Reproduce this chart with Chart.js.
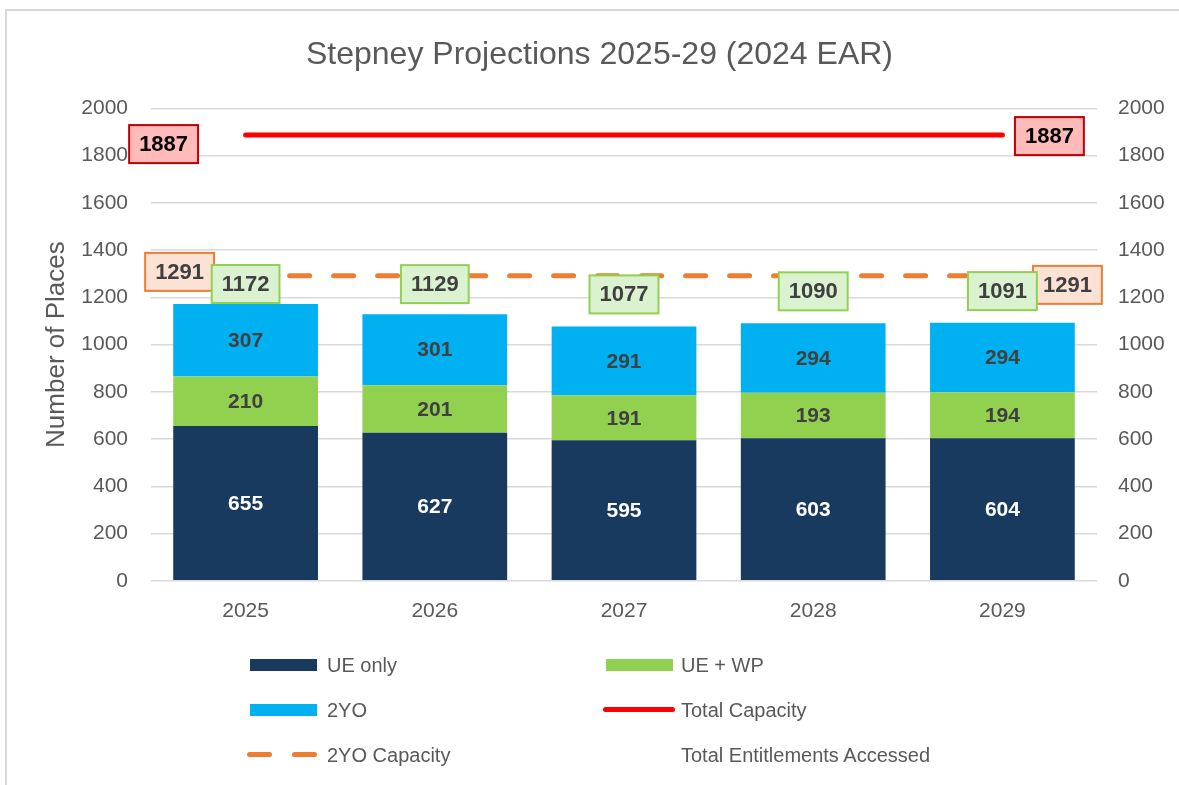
<!DOCTYPE html>
<html>
<head>
<meta charset="utf-8">
<title>Stepney Projections 2025-29</title>
<script src="https://cdn.jsdelivr.net/npm/chart.js@4.4.1/dist/chart.umd.min.js"></script>
<style>
  html, body { margin: 0; padding: 0; background: #ffffff; }
  #wrap { position: relative; width: 1179px; height: 785px; overflow: hidden; background: #ffffff; }
  #frame { position: absolute; left: 5px; top: 9px; width: 1200px; height: 800px; border-left: 2px solid #d9d9d9; border-top: 2px solid #d9d9d9; }
  #chart { position: absolute; left: 0; top: 0; }
  #legend { position: absolute; left: 0; top: 0; width: 100%; height: 100%; pointer-events: none;
            font-family: "Liberation Sans", Arial, sans-serif; font-size: 20px; color: #595959; }
  .lg-text { position: absolute; line-height: 24px; white-space: nowrap; }
  .lg-mark { position: absolute; }
</style>
</head>
<body>
<div id="wrap">
  <div id="frame"></div>
  <canvas id="chart" width="1179" height="785"></canvas>
  <div id="legend"></div>
</div>
<script>
  const years = ['2025', '2026', '2027', '2028', '2029'];
  const ueOnly = [655, 627, 595, 603, 604];
  const ueWp = [210, 201, 191, 193, 194];
  const twoYo = [307, 301, 291, 294, 294];
  const totalCapacity = [1887, 1887, 1887, 1887, 1887];
  const twoYoCapacity = [1291, 1291, 1291, 1291, 1291];
  const totalAccessed = [1172, 1129, 1077, 1090, 1091];
  const yMin = 0;
  const yMax = 2000;
  const yStep = 200;

  const TEXT_GREY = '#595959';
  const FONT = '"Liberation Sans", Arial, sans-serif';

  // draws the numbers inside the bars and the boxed labels on the lines
  const valueLabels = {
    id: 'valueLabels',
    afterDatasetsDraw(chart) {
      const ctx = chart.ctx;
      ctx.save();
      ctx.textAlign = 'center';
      ctx.textBaseline = 'middle';

      chart.data.datasets.forEach((ds, di) => {
        const meta = chart.getDatasetMeta(di);
        if (meta.hidden) return;

        if (meta.type === 'bar') {
          ctx.font = 'bold 21px ' + FONT;
          ctx.fillStyle = ds.labelColor || '#404040';
          meta.data.forEach((el, i) => {
            const midY = (el.y + el.base) / 2;
            ctx.fillText(String(ds.data[i]), el.x, midY + 1);
          });
          return;
        }

        const box = ds.boxLabel;
        if (!box) return;
        ctx.font = 'bold 22px ' + FONT;
        box.at.forEach(p => {
          const el = meta.data[p.i];
          if (!el) return;
          const text = String(ds.data[p.i]);
          const w = ctx.measureText(text).width + 20;
          const h = 38;
          const cx = el.x + p.dx;
          const cy = el.y + p.dy;
          ctx.fillStyle = box.fill;
          ctx.fillRect(cx - w / 2, cy - h / 2, w, h);
          ctx.lineWidth = 2;
          ctx.strokeStyle = box.stroke;
          ctx.strokeRect(cx - w / 2, cy - h / 2, w, h);
          ctx.fillStyle = box.color;
          ctx.fillText(text, cx, cy + 1);
        });
      });
      ctx.restore();
    }
  };

  const ctx = document.getElementById('chart').getContext('2d');

  const chart = new Chart(ctx, {
    data: {
      labels: years,
      datasets: [
        { type: 'bar', label: 'UE only', data: ueOnly, backgroundColor: '#193a5f', labelColor: '#ffffff',
          stack: 'places', order: 1, barPercentage: 0.765, categoryPercentage: 1 },
        { type: 'bar', label: 'UE + WP', data: ueWp, backgroundColor: '#92d050', labelColor: '#404040',
          stack: 'places', order: 1, barPercentage: 0.765, categoryPercentage: 1 },
        { type: 'bar', label: '2YO', data: twoYo, backgroundColor: '#00b0f0', labelColor: '#404040',
          stack: 'places', order: 1, barPercentage: 0.765, categoryPercentage: 1 },
        { type: 'line', label: 'Total Capacity', data: totalCapacity, borderColor: '#ff0000', borderWidth: 5,
          borderCapStyle: 'round', pointRadius: 0, stack: 'cap', order: 0,
          boxLabel: { fill: '#ffbaba', stroke: '#c00000', color: '#000000',
                      at: [{ i: 0, dx: -82, dy: 9 }, { i: 4, dx: 47, dy: 1 }] } },
        { type: 'line', label: '2YO Capacity', data: twoYoCapacity, borderColor: '#ed7d31', borderWidth: 5,
          borderDash: [20, 24], borderCapStyle: 'round', pointRadius: 0, stack: 'cap2', order: 0,
          boxLabel: { fill: '#fbe2d5', stroke: '#ed7d31', color: '#404040',
                      at: [{ i: 0, dx: -66, dy: -4 }, { i: 4, dx: 65, dy: 9 }] } },
        { type: 'line', label: 'Total Entitlements Accessed', data: totalAccessed, showLine: false,
          pointRadius: 0, borderColor: 'rgba(0,0,0,0)', stack: 'total', order: 0,
          boxLabel: { fill: '#daf2d0', stroke: '#92d050', color: '#404040',
                      at: [{ i: 0, dx: 0, dy: -20 }, { i: 1, dx: 0, dy: -30 }, { i: 2, dx: 0, dy: -32 },
                           { i: 3, dx: 0, dy: -32 }, { i: 4, dx: 0, dy: -32 }] } }
      ]
    },
    options: {
      responsive: false,
      animation: false,
      devicePixelRatio: 1,
      layout: { padding: { top: 0, left: 20, right: 0, bottom: 143 } },
      plugins: {
        legend: { display: false },
        tooltip: { enabled: false },
        title: {
          display: true,
          text: 'Stepney Projections 2025-29 (2024 EAR)',
          color: TEXT_GREY,
          font: { family: FONT, size: 32, weight: 'normal' },
          padding: { top: 36, bottom: 34 }
        }
      },
      scales: {
        x: {
          stacked: true,
          grid: { display: false, drawTicks: false },
          border: { display: false },
          ticks: { color: TEXT_GREY, font: { family: FONT, size: 21 }, padding: 18 }
        },
        y: {
          stacked: true,
          position: 'left',
          min: yMin, max: yMax,
          grid: { color: '#d9d9d9', lineWidth: 1.5, drawTicks: false },
          border: { display: false },
          ticks: { stepSize: yStep, color: TEXT_GREY, font: { family: FONT, size: 21 }, padding: 23,
                   callback: v => String(v) },
          title: { display: true, text: 'Number of Places', color: TEXT_GREY,
                   font: { family: FONT, size: 26, weight: 'normal' }, padding: { top: 21, bottom: 0 } },
          afterFit(scale) { scale.width = 131; }
        },
        y1: {
          display: true,
          position: 'right',
          min: yMin, max: yMax,
          grid: { display: false, drawTicks: false },
          border: { display: false },
          ticks: { stepSize: yStep, color: TEXT_GREY, font: { family: FONT, size: 21 }, padding: 21,
                   callback: v => String(v) },
          afterFit(scale) { scale.width = 82; }
        }
      }
    },
    plugins: [valueLabels]
  });

  // legend laid out like the original: two columns, three rows
  function buildLegend() {
    const legendEl = document.getElementById('legend');
    const cols = [{ mark: 250, text: 327 }, { mark: 606, text: 681 }];
    const rows = [665, 710, 755];

    chart.data.datasets.forEach((ds, i) => {
      const col = cols[i % 2];
      const rowY = rows[Math.floor(i / 2)];

      if (ds.type === 'bar') {
        const m = document.createElement('div');
        m.className = 'lg-mark';
        m.style.cssText = `left:${col.mark}px;top:${rowY - 6}px;width:67px;height:12px;background:${ds.backgroundColor};`;
        legendEl.appendChild(m);
      } else if (ds.showLine !== false && !ds.borderDash) {
        const m = document.createElement('div');
        m.className = 'lg-mark';
        m.style.cssText = `left:${col.mark - 3}px;top:${rowY - 3}px;width:72px;height:5px;border-radius:3px;background:${ds.borderColor};`;
        legendEl.appendChild(m);
      } else if (ds.borderDash) {
        [0, 45].forEach(off => {
          const m = document.createElement('div');
          m.className = 'lg-mark';
          m.style.cssText = `left:${col.mark - 3 + off}px;top:${rowY - 3}px;width:25px;height:5px;border-radius:3px;background:${ds.borderColor};`;
          legendEl.appendChild(m);
        });
      }

      const t = document.createElement('div');
      t.className = 'lg-text';
      t.style.left = col.text + 'px';
      t.style.top = (rowY - 12) + 'px';
      t.textContent = ds.label;
      legendEl.appendChild(t);
    });
  }

  buildLegend();
</script>
</body>
</html>
